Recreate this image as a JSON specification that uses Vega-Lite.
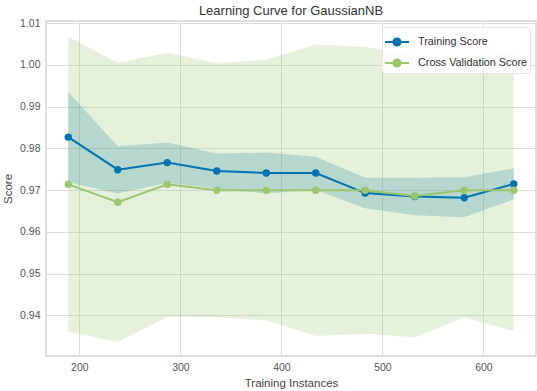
{
  "$schema": "https://vega.github.io/schema/vega-lite/v6.json",
  "width": 490,
  "height": 335,
  "autosize": {"type": "none"},
  "padding": {"left": 46, "top": 21, "right": 1, "bottom": 35},
  "title": {"text": "Learning Curve for GaussianNB", "fontSize": 13, "fontWeight": "normal", "color": "#333333", "font": "Liberation Sans", "offset": 0},
  "data": {
    "values": [
      {"n": 189, "series": "Training Score", "mean": 0.9827, "lo": 0.9719, "hi": 0.9935},
      {"n": 238, "series": "Training Score", "mean": 0.9749, "lo": 0.9692, "hi": 0.9805},
      {"n": 287, "series": "Training Score", "mean": 0.9766, "lo": 0.9718, "hi": 0.9814},
      {"n": 336, "series": "Training Score", "mean": 0.9746, "lo": 0.9704, "hi": 0.9788},
      {"n": 385, "series": "Training Score", "mean": 0.9741, "lo": 0.9692, "hi": 0.9790},
      {"n": 434, "series": "Training Score", "mean": 0.9741, "lo": 0.9701, "hi": 0.9780},
      {"n": 483, "series": "Training Score", "mean": 0.9693, "lo": 0.9657, "hi": 0.9730},
      {"n": 532, "series": "Training Score", "mean": 0.9685, "lo": 0.9640, "hi": 0.9730},
      {"n": 581, "series": "Training Score", "mean": 0.9682, "lo": 0.9635, "hi": 0.9731},
      {"n": 630, "series": "Training Score", "mean": 0.9715, "lo": 0.9678, "hi": 0.9752},
      {"n": 189, "series": "Cross Validation Score", "mean": 0.9714, "lo": 0.9361, "hi": 1.0067},
      {"n": 238, "series": "Cross Validation Score", "mean": 0.9671, "lo": 0.9337, "hi": 1.0005},
      {"n": 287, "series": "Cross Validation Score", "mean": 0.9714, "lo": 0.9397, "hi": 1.0029},
      {"n": 336, "series": "Cross Validation Score", "mean": 0.9700, "lo": 0.9396, "hi": 1.0004},
      {"n": 385, "series": "Cross Validation Score", "mean": 0.9700, "lo": 0.9388, "hi": 1.0012},
      {"n": 434, "series": "Cross Validation Score", "mean": 0.9700, "lo": 0.9351, "hi": 1.0049},
      {"n": 483, "series": "Cross Validation Score", "mean": 0.9700, "lo": 0.9356, "hi": 1.0043},
      {"n": 532, "series": "Cross Validation Score", "mean": 0.9686, "lo": 0.9347, "hi": 1.0024},
      {"n": 581, "series": "Cross Validation Score", "mean": 0.9700, "lo": 0.9395, "hi": 1.0005},
      {"n": 630, "series": "Cross Validation Score", "mean": 0.9700, "lo": 0.9363, "hi": 1.0037}
    ]
  },
  "encoding": {
    "x": {
      "field": "n", "type": "quantitative",
      "scale": {"domain": [166.95, 652.05], "nice": false, "zero": false},
      "axis": {"values": [200, 300, 400, 500, 600], "title": "Training Instances"}
    },
    "color": {
      "field": "series", "type": "nominal",
      "scale": {"domain": ["Training Score", "Cross Validation Score"], "range": ["#0072B2", "#9BC66E"]},
      "legend": {
        "title": null, "orient": "top-right", "offset": 6,
        "symbolType": "M -1 0 L 1 0 M 0.3 0 A 0.3 0.3 0 1 1 -0.3 0 A 0.3 0.3 0 1 1 0.3 0 Z",
        "symbolSize": 576, "symbolStrokeWidth": 2, "symbolOpacity": 1,
        "labelFontSize": 10.8, "labelColor": "#333333", "labelFont": "Liberation Sans",
        "rowPadding": -7, "labelOffset": 8,
        "fillColor": "rgba(255,255,255,0.85)", "strokeColor": "#e6e6e6", "cornerRadius": 3, "padding": 2
      }
    }
  },
  "layer": [
    {
      "mark": {"type": "area", "opacity": 0.25},
      "encoding": {
        "y": {"field": "lo", "type": "quantitative",
          "scale": {"domain": [0.9303, 1.0105], "nice": false, "zero": false},
          "axis": {"values": [0.94, 0.95, 0.96, 0.97, 0.98, 0.99, 1.0, 1.01], "format": ".2f", "title": "Score"}},
        "y2": {"field": "hi"}
      }
    },
    {
      "mark": {"type": "line", "strokeWidth": 2},
      "encoding": {"y": {"field": "mean", "type": "quantitative"}}
    },
    {
      "mark": {"type": "point", "filled": true, "size": 55, "opacity": 1},
      "encoding": {"y": {"field": "mean", "type": "quantitative"}}
    }
  ],
  "config": {
    "font": "Liberation Sans",
    "view": {"stroke": "#d5d5d5", "strokeWidth": 1.5},
    "axis": {
      "domain": false, "ticks": false, "grid": true, "gridColor": "#dcdcdc", "gridWidth": 1,
      "labelColor": "#555555", "labelFontSize": 10.5, "labelPadding": 6,
      "titleColor": "#444444", "titleFontSize": 11.5, "titleFontWeight": "normal"
    },
    "axisX": {"titlePadding": 5},
    "axisY": {"titlePadding": 6}
  }
}
